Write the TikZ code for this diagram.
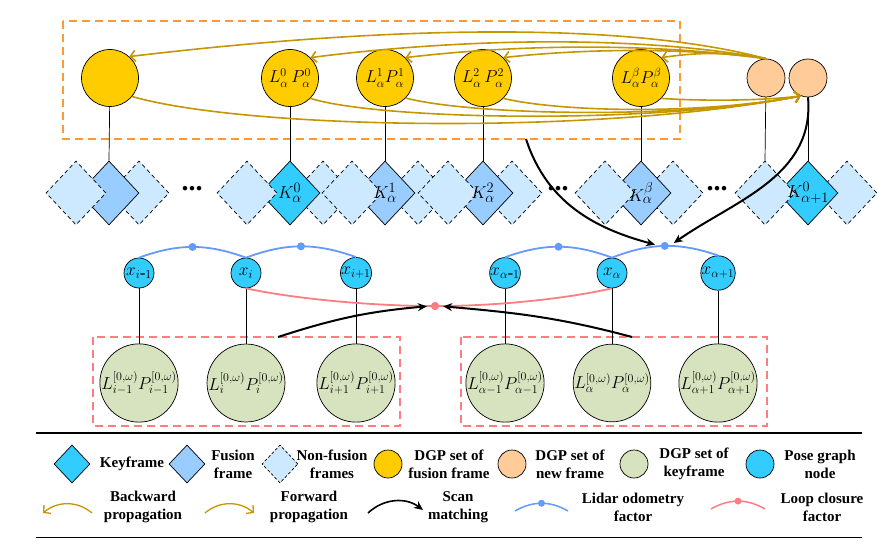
\documentclass[tikz,border=0pt]{standalone}
\usepackage{fontspec}
\setmainfont{Liberation Serif}
\usetikzlibrary{arrows.meta,shapes.geometric}
\definecolor{gold}{RGB}{196,150,0}
\definecolor{yel}{RGB}{255,204,0}
\definecolor{peach}{RGB}{255,204,153}
\definecolor{sage}{RGB}{215,227,190}
\definecolor{cyanK}{RGB}{51,204,255}
\definecolor{fus}{RGB}{153,204,255}
\definecolor{nonf}{RGB}{204,233,255}
\definecolor{orng}{RGB}{255,153,51}
\definecolor{pinkr}{RGB}{255,124,128}
\definecolor{odob}{RGB}{102,153,255}
\tikzset{
 yc/.style={circle,draw=black,line width=0.7pt,fill=yel,minimum size=57pt,inner sep=0pt,font=\fontsize{17}{17}\selectfont},
 pc/.style={circle,draw=black,line width=0.7pt,fill=peach,minimum size=38pt,inner sep=0pt},
 gc/.style={circle,draw=black,line width=0.7pt,fill=sage,minimum size=75pt,inner sep=0pt,font=\fontsize{17.5}{17.5}\selectfont},
 xcs/.style={circle,draw=black,line width=0.7pt,fill=cyanK,minimum size=30pt,inner sep=0pt,font=\fontsize{17}{17}\selectfont},
 dia/.style={diamond,draw=black,line width=0.7pt,minimum width=60pt,minimum height=64pt,inner sep=0pt},
 keyd/.style={dia,fill=cyanK},
 fusd/.style={dia,fill=fus},
 nfd/.style={dia,fill=nonf,dash pattern=on 4pt off 3pt},
 dlab/.style={font=\fontsize{19}{19}\selectfont,inner sep=0pt},
 conn/.style={line width=0.7pt,black},
 bwd/.style={gold,line width=1.6pt,-{Straight Barb[length=5pt,width=11pt]}},
 fwd/.style={gold,line width=1.6pt,-{Straight Barb[length=5pt,width=11pt]}},
 scanarr/.style={black,line width=2pt,-{Stealth[length=9pt,width=8pt]}},
 odo/.style={odob,line width=1.8pt},
 lcl/.style={pinkr,line width=1.8pt},
 odot/.style={circle,fill=odob,minimum size=8pt,inner sep=0pt},
 ldot/.style={circle,fill=pinkr,minimum size=8pt,inner sep=0pt},
 dots/.style={font=\bfseries\fontsize{28}{28}\selectfont,inner sep=0pt},
 leg/.style={font=\bfseries\fontsize{15}{18}\selectfont,align=center,inner sep=0pt},
 lkey/.style={diamond,draw=black,line width=0.7pt,minimum width=36pt,minimum height=38pt,inner sep=0pt},
 lcirc/.style={circle,draw=black,line width=0.7pt,minimum size=28pt,inner sep=0pt},
}
\begin{document}
\begin{tikzpicture}[x=1pt,y=-1pt]
\useasboundingbox (0,0) rectangle (896,548);

% orange box
\draw[orng,line width=2pt,dash pattern=on 8pt off 5pt] (63,21) rectangle (680,139);
% red boxes
\draw[pinkr,line width=2pt,dash pattern=on 8pt off 5pt] (93,337) rectangle (400,426);
\draw[pinkr,line width=2pt,dash pattern=on 8pt off 5pt] (461,337) rectangle (767,426);

% diamonds
\node[nfd] (n1b) at (139,193) {};
\node[fusd] (f1) at (109,193) {};
\node[nfd] (n1a) at (76,193) {};
\node[nfd] (n2b) at (323,193) {};
\node[keyd] (k0) at (290,193) {};
\node[nfd] (n2a) at (247,193) {};
\node[nfd] (n3b) at (418,193) {};
\node[fusd] (k1) at (385,193) {};
\node[nfd] (n3a) at (352,193) {};
\node[nfd] (n4b) at (512,193) {};
\node[fusd] (k2) at (483,193) {};
\node[nfd] (n4a) at (448,193) {};
\node[nfd] (n5b) at (673,193) {};
\node[fusd] (kb) at (641,193) {};
\node[nfd] (n5a) at (605,193) {};
\node[nfd] (n6b) at (847,193) {};
\node[keyd] (k6) at (808,193) {};
\node[nfd] (n6a) at (765,193) {};
\node[dlab] at (k0) {$K_\alpha^0$};
\node[dlab] at (k1) {$K_\alpha^1$};
\node[dlab] at (k2) {$K_\alpha^2$};
\node[dlab] at (kb) {$K_\alpha^\beta$};
\node[dlab] at (k6) {$K_{\alpha+1}^0$};
\node[dots] (d1) at (192,189) {...};
\node[dots] (d2) at (558,189) {...};
\node[dots] (d3) at (717,189) {...};

% yellow / peach circles
\node[yc] (y1) at (110,78) {};
\node[yc] (y2) at (290,78) {$L_\alpha^0\,P_\alpha^0$};
\node[yc] (y3) at (385,78) {$L_\alpha^1P_\alpha^1$};
\node[yc] (y4) at (483,78) {$L_\alpha^2\,P_\alpha^2$};
\node[yc] (y5) at (641,78) {$L_\alpha^\beta P_\alpha^\beta$};
\node[pc] (pA) at (766,78) {};
\node[pc] (pB) at (808,78) {};

\draw[conn] (y1) -- (f1.north);
\draw[conn] (y2) -- (k0.north);
\draw[conn] (y3) -- (k1.north);
\draw[conn] (y4) -- (k2.north);
\draw[conn] (y5) -- (kb.north);
\draw[conn] (pA) -- (n6a.north);
\draw[conn] (pB) -- (k6.north);

% pose graph and keyframe DGP
\node[gc] (g1) at (139,383) {$L_{i-1}^{[0,\omega)}P_{i-1}^{[0,\omega)}$};
\node[gc] (g2) at (246,383) {$L_{i}^{[0,\omega)}P_{i}^{[0,\omega)}$};
\node[gc] (g3) at (356,383) {$L_{i+1}^{[0,\omega)}P_{i+1}^{[0,\omega)}$};
\node[gc] (g4) at (505,383) {$L_{\alpha-1}^{[0,\omega)}P_{\alpha-1}^{[0,\omega)}$};
\node[gc] (g5) at (612,383) {$L_{\alpha}^{[0,\omega)}P_{\alpha}^{[0,\omega)}$};
\node[gc] (g6) at (718,383) {$L_{\alpha+1}^{[0,\omega)}P_{\alpha+1}^{[0,\omega)}$};
\node[xcs] (xa) at (139,273) {$x_{i\mbox{-}1}$};
\node[xcs] (xb) at (246,273) {$x_{i}$};
\node[xcs] (xc) at (356,273) {$x_{i+1}$};
\node[xcs] (xd) at (505,273) {$x_{\alpha\mbox{-}1}$};
\node[xcs] (xe) at (612,273) {$x_{\alpha}$};
\node[xcs] (xf) at (718,273) {$x_{\alpha+1}$};
\foreach \a/\b in {xa/g1,xb/g2,xc/g3,xd/g4,xe/g5,xf/g6} \draw[conn] (\a) -- (\b);

% odometry arcs
\draw[odo] (xa.north) to[bend left=20] node[odot] (o1) {} (xb.north);
\draw[odo] (xb.north) to[bend left=20] node[odot] (o2) {} (xc.north);
\draw[odo] (xd.north) to[bend left=20] node[odot] (o3) {} (xe.north);
\draw[odo] (xe.north) to[bend left=20] node[odot] (o4) {} (xf.north);

% loop closure
\node[ldot] (ld) at (435,306) {};
\draw[lcl] (xb.south) .. controls (300,300) and (380,306) .. (ld);
\draw[lcl] (xe.south) .. controls (560,300) and (490,306) .. (ld);
\node[ldot] at (ld) {};

% scan matching arrows
\coordinate (s1) at (278,337);
\coordinate (s2) at (632,337);
\draw[scanarr,shorten >=4pt] (s1) to[out=18,in=185] (ld.west);
\draw[scanarr,shorten >=4pt] (s2) to[out=165,in=-5] (ld.east);
\coordinate (bA) at (526,139);
\draw[scanarr,shorten >=5pt] (bA) to[out=-72,in=165] (o4.west);
\draw[scanarr,shorten >=5pt] (pB.south) to[out=-85,in=35] (o4.east);

% backward propagation
\draw[bwd] (pA.north) .. controls (640,25) and (420,22) .. (y1.48);
\draw[bwd] (pA.north) .. controls (650,37) and (480,36) .. (y2.45);
\draw[bwd] (pA.north) .. controls (660,44) and (530,43) .. (y3.45);
\draw[bwd] (pA.north) .. controls (690,48) and (590,48) .. (y4.45);
\draw[bwd] (pA.north) .. controls (730,52) and (700,52) .. (y5.45);
% forward propagation
\draw[fwd] (y1.-40) .. controls (250,130) and (600,135) .. (pB.248);
\draw[fwd] (y2.-45) .. controls (380,120) and (650,125) .. (pB.248);
\draw[fwd] (y3.-44) .. controls (470,115) and (680,120) .. (pB.248);
\draw[fwd] (y4.-45) .. controls (560,112) and (700,115) .. (pB.248);
\draw[fwd] (y5.-45) .. controls (700,101) and (760,101) .. (pB.248);

% legend
\draw[black,line width=1.6pt] (36,433) -- (862,433);
\draw[black,line width=1pt] (36,537) -- (862,537);
\node[lkey,fill=cyanK] (lk) at (72,464) {};
\node[leg] (lkt) at (132,464) {Keyframe};
\node[lkey,fill=fus] (lf) at (187,464) {};
\node[leg] (lft) at (233,464) {Fusion\\frame};
\node[lkey,fill=nonf,dash pattern=on 3pt off 2pt] (ln) at (280,464) {};
\node[leg] (lnt) at (332,464) {Non-fusion\\frames};
\node[lcirc,fill=yel] (ly) at (388,464) {};
\node[leg] (lyt) at (449,464) {DGP set of\\fusion frame};
\node[lcirc,fill=peach] (lp) at (512,464) {};
\node[leg] (lpt) at (570,464) {DGP set of\\new frame};
\node[lcirc,fill=sage] (lg) at (634,464) {};
\node[leg] (lgt) at (694,464) {DGP set of\\keyframe};
\node[lcirc,fill=cyanK] (lx) at (760,464) {};
\node[leg] (lxt) at (820,464) {Pose graph\\node};

\coordinate (b1) at (92,513); \coordinate (b2) at (43,513);
\draw[bwd,line width=1.3pt] (b1) to[bend right=40] (b2);
\node[leg] (bt) at (143,507) {Backward\\propagation};
\coordinate (f1a) at (205,513); \coordinate (f1b) at (254,513);
\draw[fwd,line width=1.3pt] (f1a) to[bend left=40] (f1b);
\node[leg] (ft) at (309,507) {Forward\\propagation};
\coordinate (sa) at (368,513); \coordinate (sb) at (423,510);
\draw[scanarr,line width=1.6pt] (sa) to[bend left=40] (sb);
\node[leg] (st) at (458,507) {Scan\\matching};
\coordinate (la) at (515,511); \coordinate (lb) at (568,511);
\draw[odo,line width=1.5pt] (la) to[bend left=30] node[odot,minimum size=7pt] (lod) {} (lb);
\node[leg] (lt) at (633,507) {Lidar odometry\\factor};
\coordinate (ra) at (711,509); \coordinate (rb) at (765,509);
\draw[lcl,line width=1.5pt] (ra) to[bend left=30] node[ldot,minimum size=7pt] (lld) {} (rb);
\node[leg] (rt) at (822,507) {Loop closure\\factor};
\end{tikzpicture}
\end{document}
